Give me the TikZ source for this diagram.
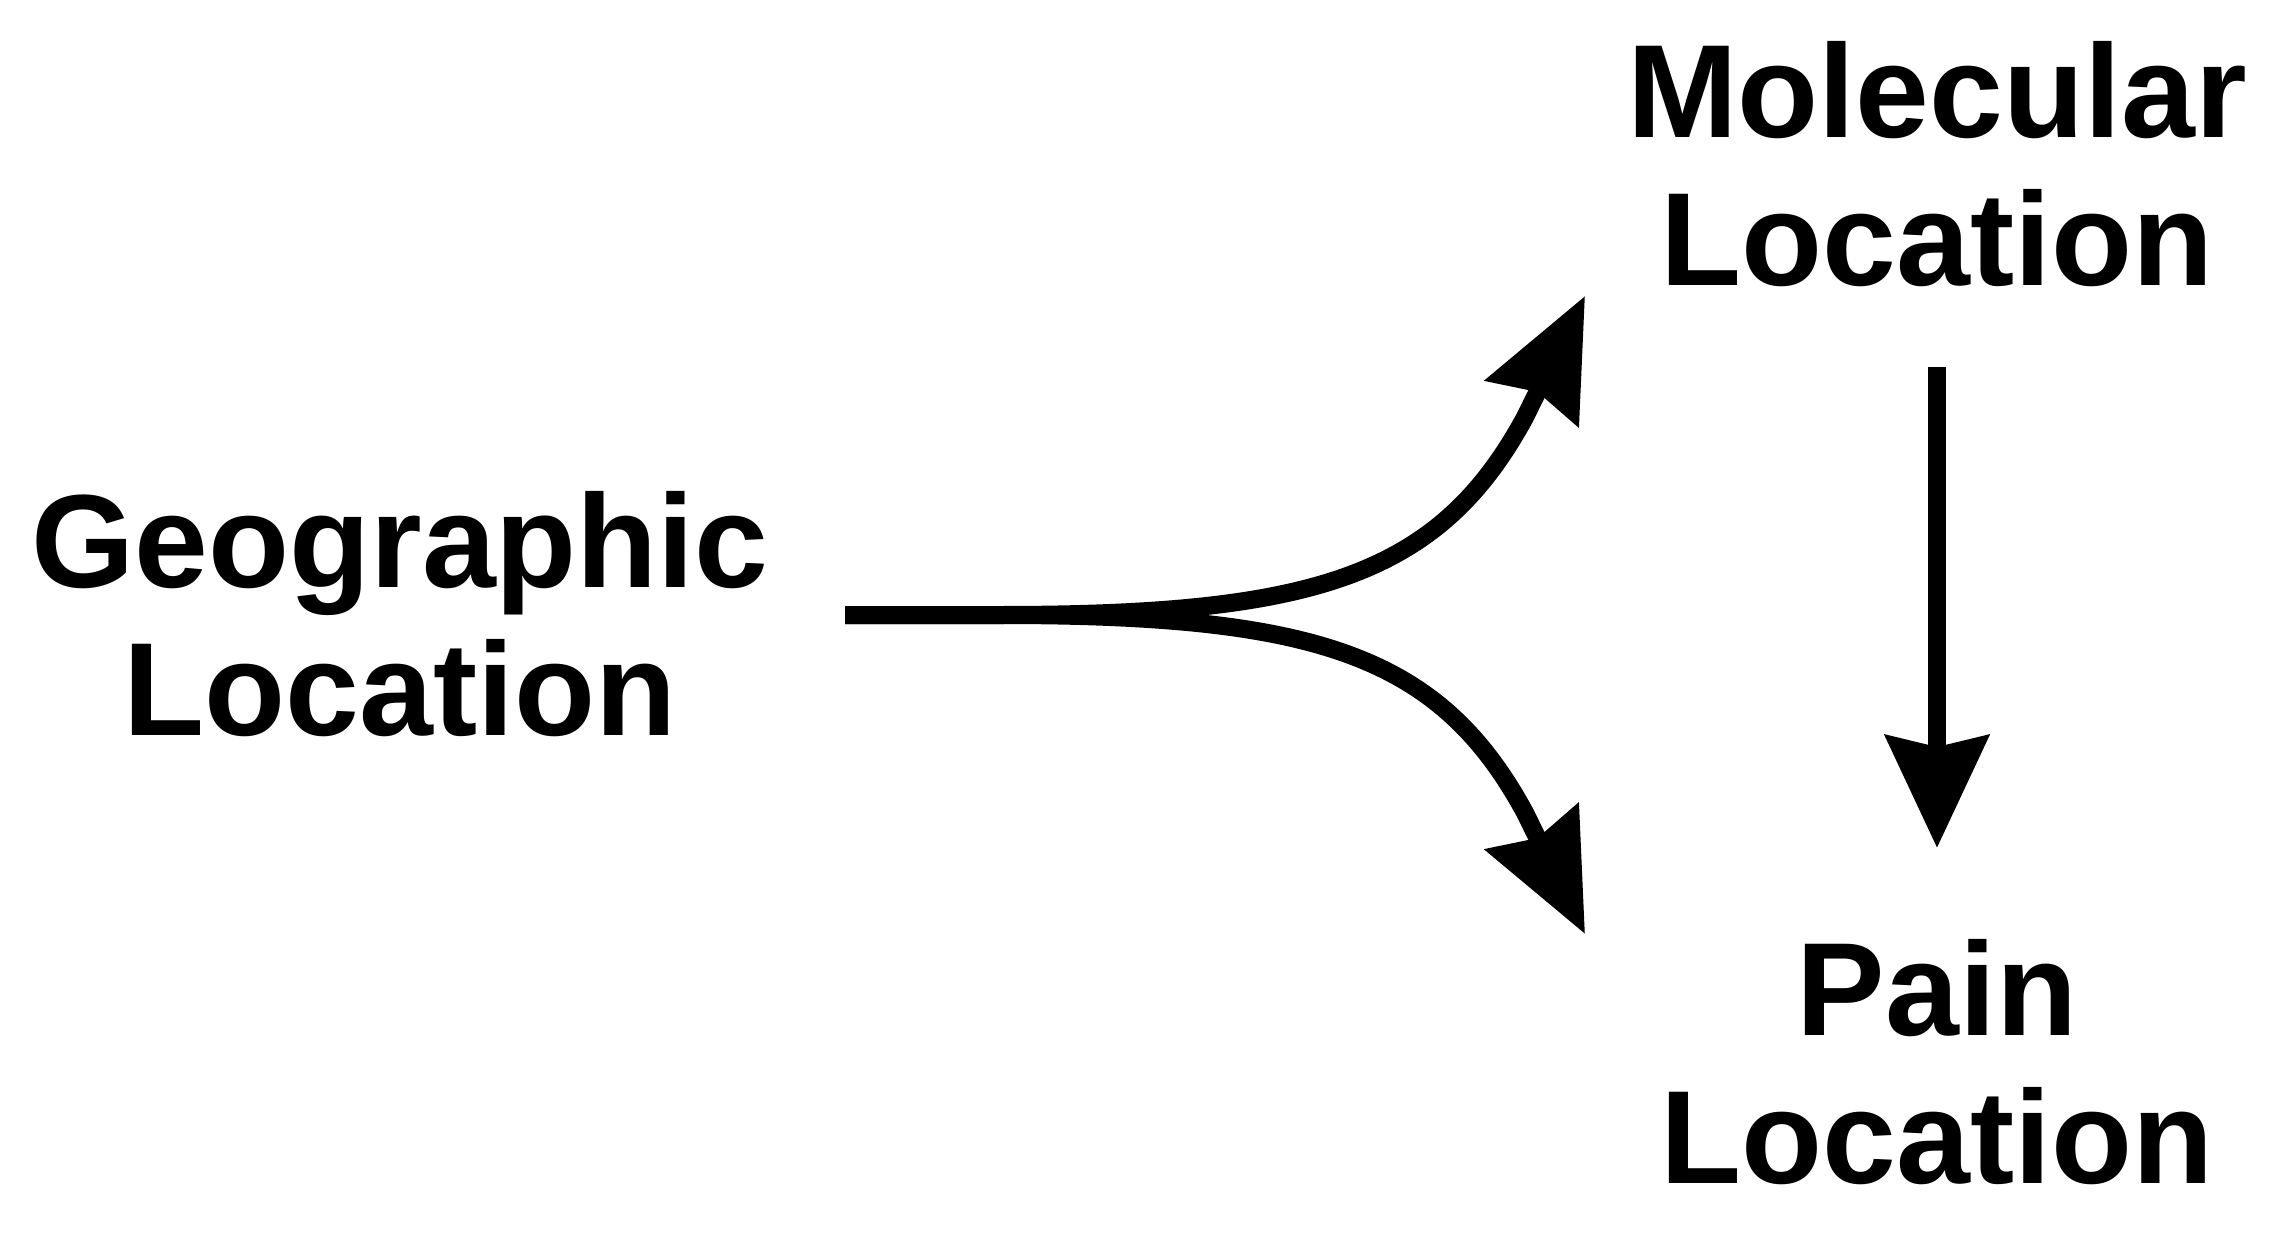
\documentclass[tikz,border=0pt]{standalone}
\usepackage{fontspec}
\setmainfont{Liberation Sans}
\usetikzlibrary{arrows.meta}
\tikzset{
  lbl/.style={font=\bfseries\fontsize{39.8pt}{44.4pt}\selectfont, align=center, inner sep=0pt, anchor=center},
  conn/.style={line width=5.4pt, black},
  headA/.style={-{Stealth[length=35.7pt, width=30.6pt, inset=3.6pt]}},
  headB/.style={-{Stealth[length=33.6pt, width=30.6pt, inset=3.3pt]}}
}
\begin{document}
\begin{tikzpicture}[x=0.3pt, y=-0.3pt]
  \useasboundingbox[fill=white] (0,0) rectangle (2280,1233);
  \node[lbl] (geo) at (400,614) {Geographic\\Location};
  \node[lbl] (mol) at (1937,164) {Molecular\\Location};
  \node[lbl] (pain) at (1937,1062) {Pain\\Location};
  \coordinate (gstart) at (845,615);
  \coordinate (split) at (1000,615);
  \coordinate (upbend) at (1524.6,418);
  \coordinate (dnbend) at (1524.6,812);
  \coordinate (uptip) at (1585,296);
  \coordinate (dntip) at (1585,934);
  \coordinate (vtop) at (1937,367);
  \coordinate (vtip) at (1937,848);
  \draw[conn, headA] (gstart) -- (split) .. controls (1313.5,615) and (1438.4,576.2) .. (upbend) -- (uptip);
  \draw[conn, headA] (gstart) -- (split) .. controls (1313.5,615) and (1438.4,653.8) .. (dnbend) -- (dntip);
  \draw[conn, headB] (vtop) -- (vtip);
\end{tikzpicture}
\end{document}
